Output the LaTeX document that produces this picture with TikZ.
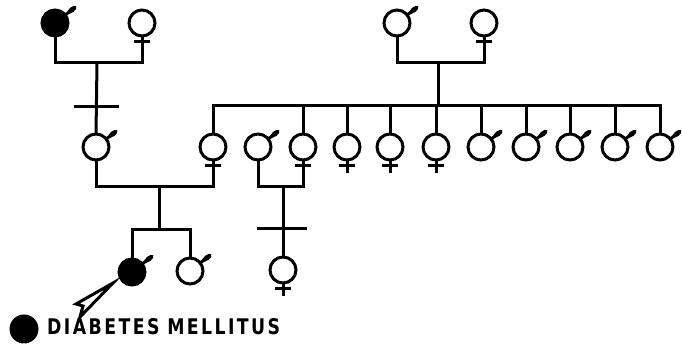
\documentclass[tikz,border=0pt]{standalone}
\usepackage{fontspec}
\newfontfamily\legendfont[LetterSpace=14]{DejaVu Sans}
\usetikzlibrary{calc}
\newcommand\malemark[1]{%
  \begin{scope}[shift={(#1.center)}, rotate=38]
    \draw[lw] (13,0) -- (18,0);
    \fill (21.5,0) ellipse (5.5 and 2.6);
  \end{scope}}
\newcommand\femmark[1]{%
  \draw[lw] (#1.south) -- ++(0,-13);
  \draw[lw] ($(#1.south)+(-8,-5.5)$) -- ++(16,0);}
\begin{document}
\begin{tikzpicture}[x=1pt,y=1pt,
  lw/.style={line width=3pt},
  person/.style={circle, draw, line width=3pt, minimum size=26pt, inner sep=0pt, outer sep=0pt},
  aff/.style={person, fill=black},
  line cap=butt]
\useasboundingbox (0,0) rectangle (682,344);

% generation I
\node[aff]    (M1) at (55,321) {};
\node[person] (F1) at (142,321) {};
\node[person] (M3) at (397,321) {};
\node[person] (F3) at (484,321) {};

% generation II
\node[person] (M2) at (96,197) {};
\node[person] (F2) at (213,197) {};
\node[person] (M4) at (258,197) {};
\node[person] (F4) at (303,197) {};
\node[person] (F5) at (347,197) {};
\node[person] (F6) at (390,197) {};
\node[person] (F7) at (436,197) {};
\node[person] (M5) at (481,197) {};
\node[person] (M6) at (526,197) {};
\node[person] (M7) at (570,197) {};
\node[person] (M8) at (615,197) {};
\node[person] (M9) at (660,197) {};

% generation III
\node[aff]    (M10) at (132,72) {};
\node[person] (M11) at (190,73) {};
\node[person] (F8)  at (283,74) {};

% sex marks
\foreach \m in {M1,M2,M3,M4,M5,M6,M7,M8,M9,M10,M11} {\malemark{\m}}
\foreach \f in {F1,F2,F3,F4,F5,F6,F7,F8} {\femmark{\f}}

% marriages and descent
\coordinate (mA) at (97,281);
\draw[lw] (M1.south) |- (mA) -| (F1.south);
\draw[lw] (mA) -- (M2.north);
\draw[lw] (74,237) -- (119,237);

\coordinate (mB) at (438,281);
\coordinate (sA) at (438,238);
\draw[lw] (M3.south) |- (mB) -| (F3.south);
\draw[lw] (mB) -- (sA);
\draw[lw] (F2.north) |- (sA) -| (M9.north);
\foreach \s in {F4,F5,F6,F7,M5,M6,M7,M8} {\draw[lw] (\s.north) -- (\s.north |- sA);}

\coordinate (mC) at (159,157);
\coordinate (sC) at (159,114);
\draw[lw] (M2.south) |- (mC) -| (F2.south);
\draw[lw] (mC) -- (sC);
\draw[lw] (M10.north) |- (sC) -| (M11.north);

\coordinate (mD) at (283,157);
\draw[lw] (M4.south) |- (mD) -| (F4.south);
\draw[lw] (mD) -- (F8.north);
\draw[lw] (257,115) -- (307,115);

% pointer to proband
\draw[line width=3pt, fill=white, line join=miter] (113,61) -- (76,40) -- (83,38) -- (80,27) -- cycle;

% legend
\node[circle, fill=black, minimum size=29pt, inner sep=0pt] (L) at (24,15) {};
\node[anchor=west, inner sep=0pt] (T) at (47,17)
  {\resizebox{233pt}{16pt}{\legendfont\bfseries DIABETES\hspace{0.45em}MELLITUS}};
\end{tikzpicture}
\end{document}
